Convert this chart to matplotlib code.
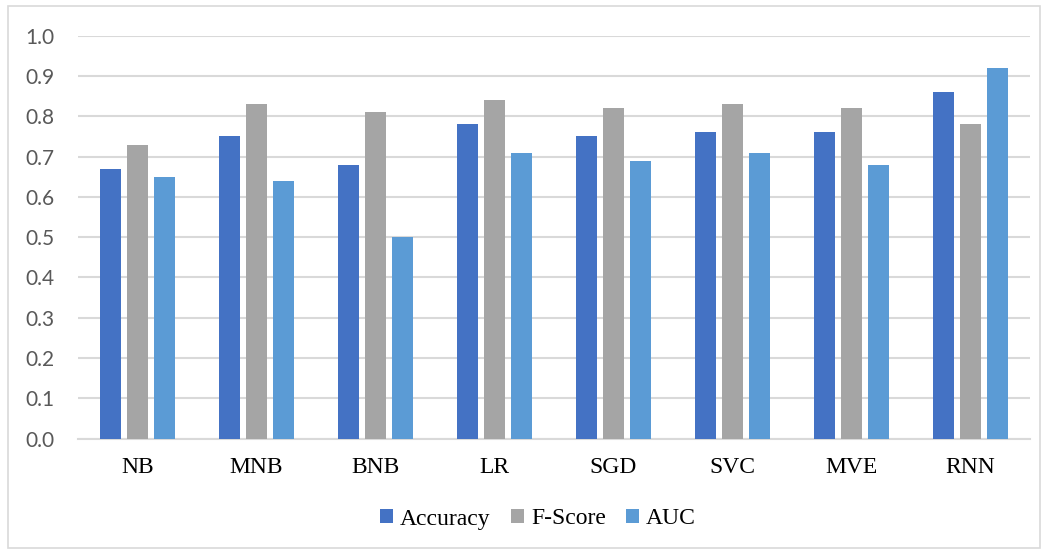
import matplotlib
matplotlib.use("Agg")
import matplotlib.pyplot as plt
import numpy as np
from matplotlib.patches import Rectangle

categories = ["NB", "MNB", "BNB", "LR", "SGD", "SVC", "MVE", "RNN"]
accuracy = [0.67, 0.75, 0.68, 0.78, 0.75, 0.76, 0.76, 0.86]
f_score = [0.73, 0.83, 0.81, 0.84, 0.82, 0.83, 0.82, 0.78]
auc = [0.65, 0.64, 0.50, 0.71, 0.69, 0.71, 0.68, 0.92]
series_names = ["Accuracy", "F-Score", "AUC"]
yticks = [0.0, 0.1, 0.2, 0.3, 0.4, 0.5, 0.6, 0.7, 0.8, 0.9, 1.0]

colors = ["#4472C4", "#A5A5A5", "#5B9BD5"]
W, H = 1048, 551
fig = plt.figure(figsize=(W / 100, H / 100), dpi=100)
fig.patches.append(Rectangle((7.5 / W, 3 / H), (1040 - 7.5) / W, (545 - 3) / H,
                             transform=fig.transFigure, fill=False,
                             edgecolor="#D9D9D9", linewidth=1.2))
ax = fig.add_axes([78 / W, (H - 438.7) / H, (1030 - 78) / W, (438.7 - 35.7) / H])

x = np.arange(len(categories))
pitch = 0.224
width = 0.176
for i, (vals, name) in enumerate(zip([accuracy, f_score, auc], series_names)):
    ax.bar(x + (i - 1) * pitch, vals, width, color=colors[i], label=name, zorder=3)

ax.set_xlim(-0.5, len(categories) - 0.5)
ax.set_ylim(0, 1.0)
ax.set_yticks(yticks)
ax.set_yticklabels([f"{v:.1f}" for v in yticks], fontfamily="Lato", fontsize=15, color="#595959")
ax.set_xticks(x)
ax.set_xticklabels(categories, fontfamily="Liberation Serif", fontsize=17, color="black")
ax.tick_params(axis="both", length=0)
ax.tick_params(axis="y", pad=17)
ax.tick_params(axis="x", pad=13)
ax.grid(axis="y", color="#D9D9D9", linewidth=1.5, zorder=0)
ax.set_axisbelow(True)
for s in ["top", "right", "left"]:
    ax.spines[s].set_visible(False)
ax.spines["bottom"].set_color("#D9D9D9")
ax.spines["bottom"].set_linewidth(1.5)
ax.spines["bottom"].set_zorder(1)

leg = fig.legend(loc="center", bbox_to_anchor=(538 / W, (H - 519) / H), ncol=3,
                 frameon=False, prop={"family": "Liberation Serif", "size": 17},
                 handlelength=0.55, handleheight=0.55, handletextpad=0.3, columnspacing=0.85)

fig.savefig("out.png", dpi=100)
